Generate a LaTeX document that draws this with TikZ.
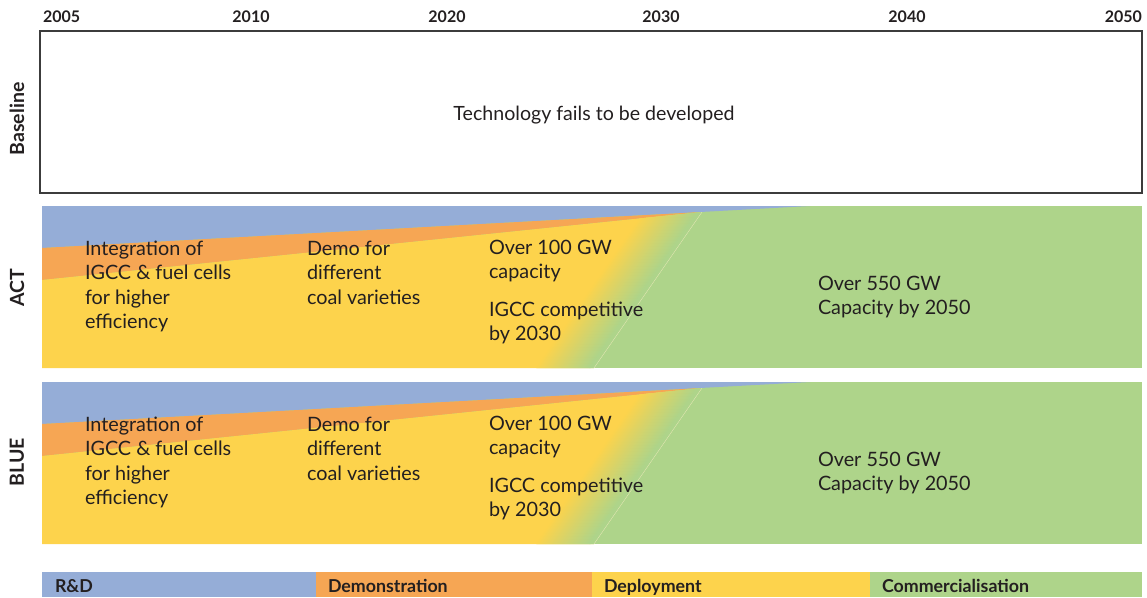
\documentclass[tikz,border=0pt]{standalone}
\usepackage{fontspec}
\setmainfont{Lato}
\definecolor{rdblue}{RGB}{149,173,215}
\definecolor{demoorange}{RGB}{246,166,84}
\definecolor{depyellow}{RGB}{253,211,76}
\definecolor{comgreen}{RGB}{174,212,138}
\definecolor{ink}{RGB}{35,31,32}
\definecolor{boxline}{RGB}{60,60,60}
\begin{document}
\begin{tikzpicture}[x=1pt,y=-1pt,
  every node/.style={text=ink, inner sep=0pt, outer sep=0pt},
  bandtext/.style={anchor=north west, align=left, font=\fontsize{19.8}{24.3}\selectfont},
  basetext/.style={font=\fontsize{19.6}{23}\selectfont},
  yearlabel/.style={anchor=base, font=\bfseries\fontsize{16}{18}\selectfont},
  rowlabel/.style={rotate=90, font=\bfseries\fontsize{19.5}{22}\selectfont},
  legendtext/.style={anchor=base west, font=\bfseries\fontsize{17.8}{20}\selectfont},
  framebox/.style={draw=boxline, line width=1.3pt, anchor=north west, minimum width=1102pt, minimum height=162pt}]
\useasboundingbox (0,0) rectangle (1147,597);

% year axis
\node[yearlabel, anchor=base west] (y2005) at (43,22) {2005};
\node[yearlabel] (y2010) at (251,22) {2010};
\node[yearlabel] (y2020) at (447,22) {2020};
\node[yearlabel] (y2030) at (661,22) {2030};
\node[yearlabel] (y2040) at (907,22) {2040};
\node[yearlabel, anchor=base east] (y2050) at (1142,22) {2050};

% baseline row
\node[framebox] (basebox) at (40,31) {};
\node[basetext] (basemsg) at (594,115) {Technology fails to be developed};
\node[rowlabel] (rowbase) at (17,119) {Baseline};
\node[rowlabel] (rowact) at (17,288) {ACT};
\node[rowlabel] (rowblue) at (17,462) {BLUE};

% scenario bands
\foreach \dy/\nm in {0/act,176/blue}{
\begin{scope}[shift={(0,\dy)}]
  \fill[comgreen] (42,206) rectangle (1142,368);
  \fill[rdblue] (42,206) -- (810,206) -- (42,248) -- cycle;
  \fill[demoorange] (42,248) -- (702,212) -- (42,280) -- cycle;
  \fill[depyellow] (42,280) -- (702,212) -- (594,368) -- (42,368) -- cycle;
  \begin{scope}
    \clip (42,280) -- (702,212) -- (594,368) -- (42,368) -- cycle;
    \foreach \k in {0,...,53}{
      \pgfmathsetmacro\xa{536+\k}
      \pgfmathsetmacro\xb{537.6+\k}
      \pgfmathsetmacro\xc{648.2+\k}
      \pgfmathsetmacro\xd{649.8+\k}
      \pgfmathtruncatemacro\pc{100-(\k+0.5)*100/54}
      \fill[depyellow!\pc!comgreen] (\xa,368) -- (\xc,206) -- (\xd,206) -- (\xb,368) -- cycle;
    }
    \fill[comgreen] (589.5,368) -- (701.7,206) -- (820,206) -- (820,368) -- cycle;
  \end{scope}
  \draw[white, line width=0.35pt, opacity=0.5] (594,368) -- (702,212);
  \node[bandtext] (\nm-integ) at (85,241) {Integration of\\IGCC \& fuel cells\\for higher\\efficiency};
  \node[bandtext] (\nm-demo) at (307,241) {Demo for\\different\\coal varieties};
  \node[bandtext] (\nm-over100) at (489,240) {Over 100 GW\\capacity};
  \node[bandtext] (\nm-igcc) at (489,302) {IGCC competitive\\by 2030};
  \node[bandtext] (\nm-over550) at (818,276) {Over 550 GW\\Capacity by 2050};
\end{scope}
}

% legend
\fill[rdblue] (42,572) rectangle (316,597);
\fill[demoorange] (316,572) rectangle (592,597);
\fill[depyellow] (592,572) rectangle (870,597);
\fill[comgreen] (870,572) rectangle (1142,597);
\node[legendtext] (legrd) at (55,592) {R\&D};
\node[legendtext] (legdemo) at (328,592) {Demonstration};
\node[legendtext] (legdep) at (604,592) {Deployment};
\node[legendtext] (legcom) at (882,592) {Commercialisation};
\end{tikzpicture}
\end{document}
